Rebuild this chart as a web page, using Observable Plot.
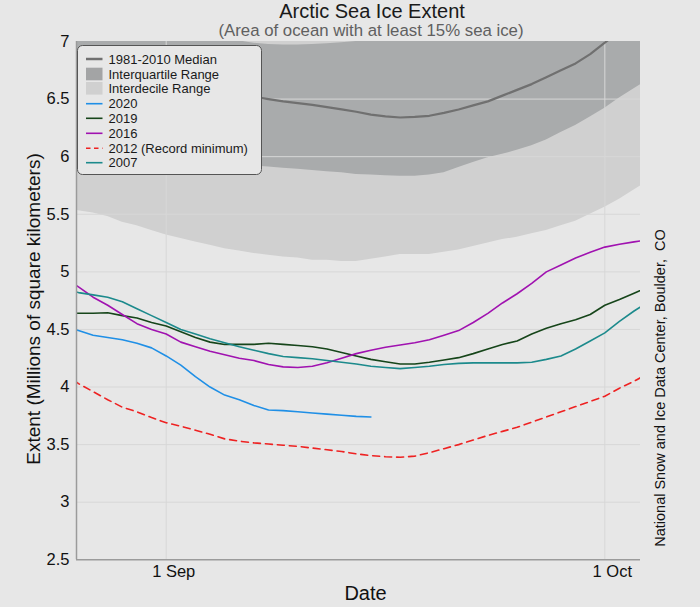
<!DOCTYPE html>
<html><head><meta charset="utf-8">
<script src="https://cdn.jsdelivr.net/npm/d3@7"></script>
<script src="https://cdn.jsdelivr.net/npm/@observablehq/plot@0.6"></script>
<style>
html,body{margin:0;padding:0;background:#e7e7e7;}
svg{display:block;}
</style></head><body><div id="chart"></div>
<script>
// ---- data (daily values, 25 Aug .. 4 Oct) ----
const firstDay = "2020-08-25";
const dayCount = 41;
const xDomain = ["2020-08-25T20:46Z", "2020-10-03T10:34Z"];
const xTickDates = ["2020-09-01", "2020-10-01"];
const xTickLabels = ["1 Sep", "1 Oct"];
const yTicks = [2.5, 3, 3.5, 4, 4.5, 5, 5.5, 6, 6.5, 7];
const yGrid = [3, 3.5, 4, 4.5, 5, 5.5, 6, 6.5];

const median = [6.95,6.88,6.82,6.77,6.72,6.68,6.64,
  6.61,6.59,6.575,6.56,6.545,6.53,6.52,6.50,6.48,6.465,6.45,6.43,6.41,6.39,6.365,6.35,6.34,6.345,6.355,6.38,6.41,6.445,6.48,6.53,6.58,6.63,6.69,6.75,6.81,6.89,
  6.99,7.09,7.19,7.29];
const iqrLow = [6.10,6.08,6.06,6.04,6.02,6.00,5.99,
  5.97,5.96,5.95,5.94,5.93,5.925,5.92,5.91,5.90,5.89,5.88,5.87,5.86,5.845,5.84,5.835,5.83,5.83,5.84,5.86,5.905,5.95,5.99,6.02,6.055,6.095,6.145,6.21,6.27,6.345,
  6.42,6.51,6.59,6.67];
const iqrHigh = [7.30,7.25,7.20,7.16,7.13,7.11,7.09,
  7.08,7.06,7.04,7.03,7.02,7.005,6.985,6.975,6.97,6.97,6.975,6.98,6.99,7.00,7.02,7.05,7.09,7.13,7.17,7.21,7.25,7.30,7.35,7.40,7.45,7.50,7.55,7.60,7.65,7.70,
  7.75,7.80,7.85,7.90];
const idrLow = [5.56,5.53,5.51,5.48,5.43,5.40,5.36,
  5.32,5.29,5.26,5.23,5.20,5.18,5.16,5.145,5.13,5.12,5.10,5.10,5.09,5.09,5.11,5.13,5.15,5.15,5.15,5.17,5.19,5.22,5.25,5.28,5.30,5.33,5.36,5.40,5.44,5.50,
  5.56,5.63,5.71,5.79];
const idrHigh = [7.70,7.65,7.60,7.56,7.53,7.51,7.50,
  7.49,7.48,7.47,7.46,7.45,7.45,7.44,7.44,7.44,7.44,7.45,7.45,7.46,7.47,7.49,7.52,7.56,7.60,7.64,7.68,7.72,7.77,7.82,7.87,7.92,7.97,8.02,8.07,8.12,8.17,
  8.22,8.27,8.32,8.37];

const y2020 = [4.53,4.49,4.45,4.43,4.41,4.38,4.34,
  4.27,4.19,4.09,4.00,3.93,3.89,3.84,3.80,3.795,3.785,3.775,3.765,3.755,3.745,3.74];
const y2019 = [4.64,4.64,4.64,4.645,4.62,4.60,4.56,
  4.53,4.48,4.43,4.39,4.37,4.37,4.37,4.38,4.37,4.36,4.35,4.33,4.30,4.27,4.24,4.22,4.20,4.20,4.215,4.235,4.255,4.29,4.33,4.37,4.40,4.46,4.51,4.55,4.585,4.63,
  4.71,4.76,4.815,4.87];
const y2016 = [4.95,4.87,4.78,4.71,4.63,4.55,4.50,
  4.46,4.39,4.35,4.31,4.28,4.25,4.23,4.195,4.175,4.17,4.18,4.21,4.25,4.29,4.32,4.345,4.365,4.385,4.41,4.45,4.49,4.56,4.64,4.73,4.81,4.90,5.00,5.06,5.12,5.17,
  5.215,5.24,5.26,5.28];
const y2012 = [4.12,4.03,3.96,3.89,3.825,3.785,3.735,
  3.69,3.66,3.625,3.59,3.55,3.53,3.515,3.505,3.495,3.485,3.47,3.455,3.44,3.42,3.405,3.395,3.39,3.40,3.43,3.465,3.50,3.54,3.58,3.615,3.65,3.695,3.74,3.785,3.83,3.875,
  3.92,3.99,4.05,4.12];
const y2007 = [4.85,4.82,4.80,4.78,4.74,4.68,4.62,
  4.56,4.50,4.46,4.42,4.385,4.35,4.32,4.29,4.265,4.255,4.245,4.23,4.215,4.20,4.18,4.17,4.16,4.17,4.18,4.195,4.205,4.21,4.21,4.21,4.21,4.215,4.24,4.27,4.33,4.40,
  4.47,4.57,4.66,4.74];

const seriesNames = ["2020", "2019", "2016", "2012", "2007"];
const seriesLabels = ["2020", "2019", "2016", "2012 (Record minimum)", "2007"];
const seriesValues = [y2020, y2019, y2016, y2012, y2007];
const seriesColors = ["#1f8fe6", "#16451a", "#a012b0", "#ee2222", "#1c8a8c"];
const seriesDash = [null, null, null, "7,5", null];

// ---- build tables ----
const t0 = new Date(firstDay);
const days = d3.range(dayCount).map(i => d3.utcDay.offset(t0, i));
const bands = days.map((d, i) => ({date: d, med: median[i], iqrLo: iqrLow[i], iqrHi: iqrHigh[i], idrLo: idrLow[i], idrHi: idrHigh[i]}));
const lineMarks = seriesNames.map((name, s) => {
  const rows = seriesValues[s].map((v, i) => ({date: days[i], value: v}));
  return Plot.lineY(rows, {x: "date", y: "value", stroke: seriesColors[s], strokeWidth: 1.6,
    strokeDasharray: seriesDash[s] || undefined, clip: true});
});
const xTicks = xTickDates.map(d => new Date(d));
const xFmt = d => xTickLabels[xTicks.findIndex(t => +t === +d)];
const FONT = '"Liberation Sans", Arial, Helvetica, sans-serif';

const svg = Plot.plot({
  width: 700, height: 607,
  marginLeft: 76, marginRight: 60, marginTop: 41, marginBottom: 47.7,
  style: {background: "#e7e7e7", fontFamily: FONT, fontSize: "16.5px", color: "#222"},
  x: {type: "utc", domain: xDomain.map(d => new Date(d))},
  y: {domain: [2.5, 7]},
  marks: [
    Plot.areaY(bands, {x: "date", y1: "idrLo", y2: "idrHi", fill: "#d0d0d0", clip: true}),
    Plot.areaY(bands, {x: "date", y1: "iqrLo", y2: "iqrHi", fill: "#a9abac", clip: true}),
    Plot.gridY(yGrid, {stroke: "#d7d7d7", strokeOpacity: 1, strokeWidth: 1}),
    Plot.gridX(xTicks, {stroke: "#d7d7d7", strokeOpacity: 1, strokeWidth: 1}),
    Plot.lineY(bands, {x: "date", y: "med", stroke: "#707070", strokeWidth: 2.2, clip: true}),
    ...lineMarks,
    Plot.ruleX([new Date(xDomain[0])], {stroke: "#9b9b9b", strokeWidth: 1.5}),
    Plot.ruleY([2.5], {stroke: "#9b9b9b", strokeWidth: 1.5}),
    Plot.axisY(yTicks, {tickSize: 0, tickPadding: 7, label: null, tickFormat: d => String(d), fill: "#111"}),
    Plot.axisX(xTicks, {tickSize: 0, tickPadding: 5, label: null, tickFormat: xFmt, dx: 7.5, fill: "#111"})
  ]
});

const root = d3.select(svg);
// titles
root.append("text").attr("x", 372).attr("y", 18).attr("text-anchor", "middle")
  .style("font", `20px ${FONT}`).attr("fill", "#1a1a1a").text("Arctic Sea Ice Extent");
root.append("text").attr("x", 371).attr("y", 36).attr("text-anchor", "middle")
  .style("font", `16.8px ${FONT}`).attr("fill", "#606060").text("(Area of ocean with at least 15% sea ice)");
root.append("text").attr("transform", "translate(40,309) rotate(-90)").attr("text-anchor", "middle")
  .style("font", `19px ${FONT}`).attr("fill", "#111").text("Extent (Millions of square kilometers)");
root.append("text").attr("x", 365.5).attr("y", 600).attr("text-anchor", "middle")
  .style("font", `20px ${FONT}`).attr("fill", "#111").text("Date");
root.append("text").attr("transform", "translate(665,388) rotate(-90)").attr("text-anchor", "middle")
  .style("font", `14.5px ${FONT}`).attr("fill", "#111").style("white-space", "pre")
  .text("National Snow and Ice Data Center, Boulder,  CO");

// legend
const lg = root.append("g").attr("text-anchor", "start").style("font", `13px ${FONT}`);
lg.append("rect").attr("x", 77.5).attr("y", 45.5).attr("width", 184).attr("height", 129).attr("rx", 5)
  .attr("fill", "#e7e7e7").attr("stroke", "#555").attr("stroke-width", 1);
const rowsY = [59, 74, 88.3, 103.7, 118.3, 133.3, 148.3, 162.7];
const labels = ["1981-2010 Median", "Interquartile Range", "Interdecile Range", ...seriesLabels];
labels.forEach((lab, i) => {
  const cy = rowsY[i];
  if (i === 0) {
    lg.append("line").attr("x1", 86).attr("x2", 102.5).attr("y1", cy).attr("y2", cy).attr("stroke", "#707070").attr("stroke-width", 2.5);
  } else if (i === 1 || i === 2) {
    lg.append("rect").attr("x", 86).attr("y", cy - 6.3).attr("width", 16.5).attr("height", 12.6).attr("fill", i === 1 ? "#a3a4a5" : "#d0d0d0");
  } else {
    const s = i - 3;
    const ln = lg.append("line").attr("x1", 86).attr("x2", 102.5).attr("y1", cy).attr("y2", cy)
      .attr("stroke", seriesColors[s]).attr("stroke-width", 1.6);
    if (seriesDash[s]) ln.attr("stroke-dasharray", "4.5,3.5");
  }
  lg.append("text").attr("x", 108.5).attr("y", cy + 4.6).attr("text-anchor", "start").attr("fill", "#1a1a1a").text(lab);
});

document.getElementById("chart").appendChild(svg);
</script></body></html>
